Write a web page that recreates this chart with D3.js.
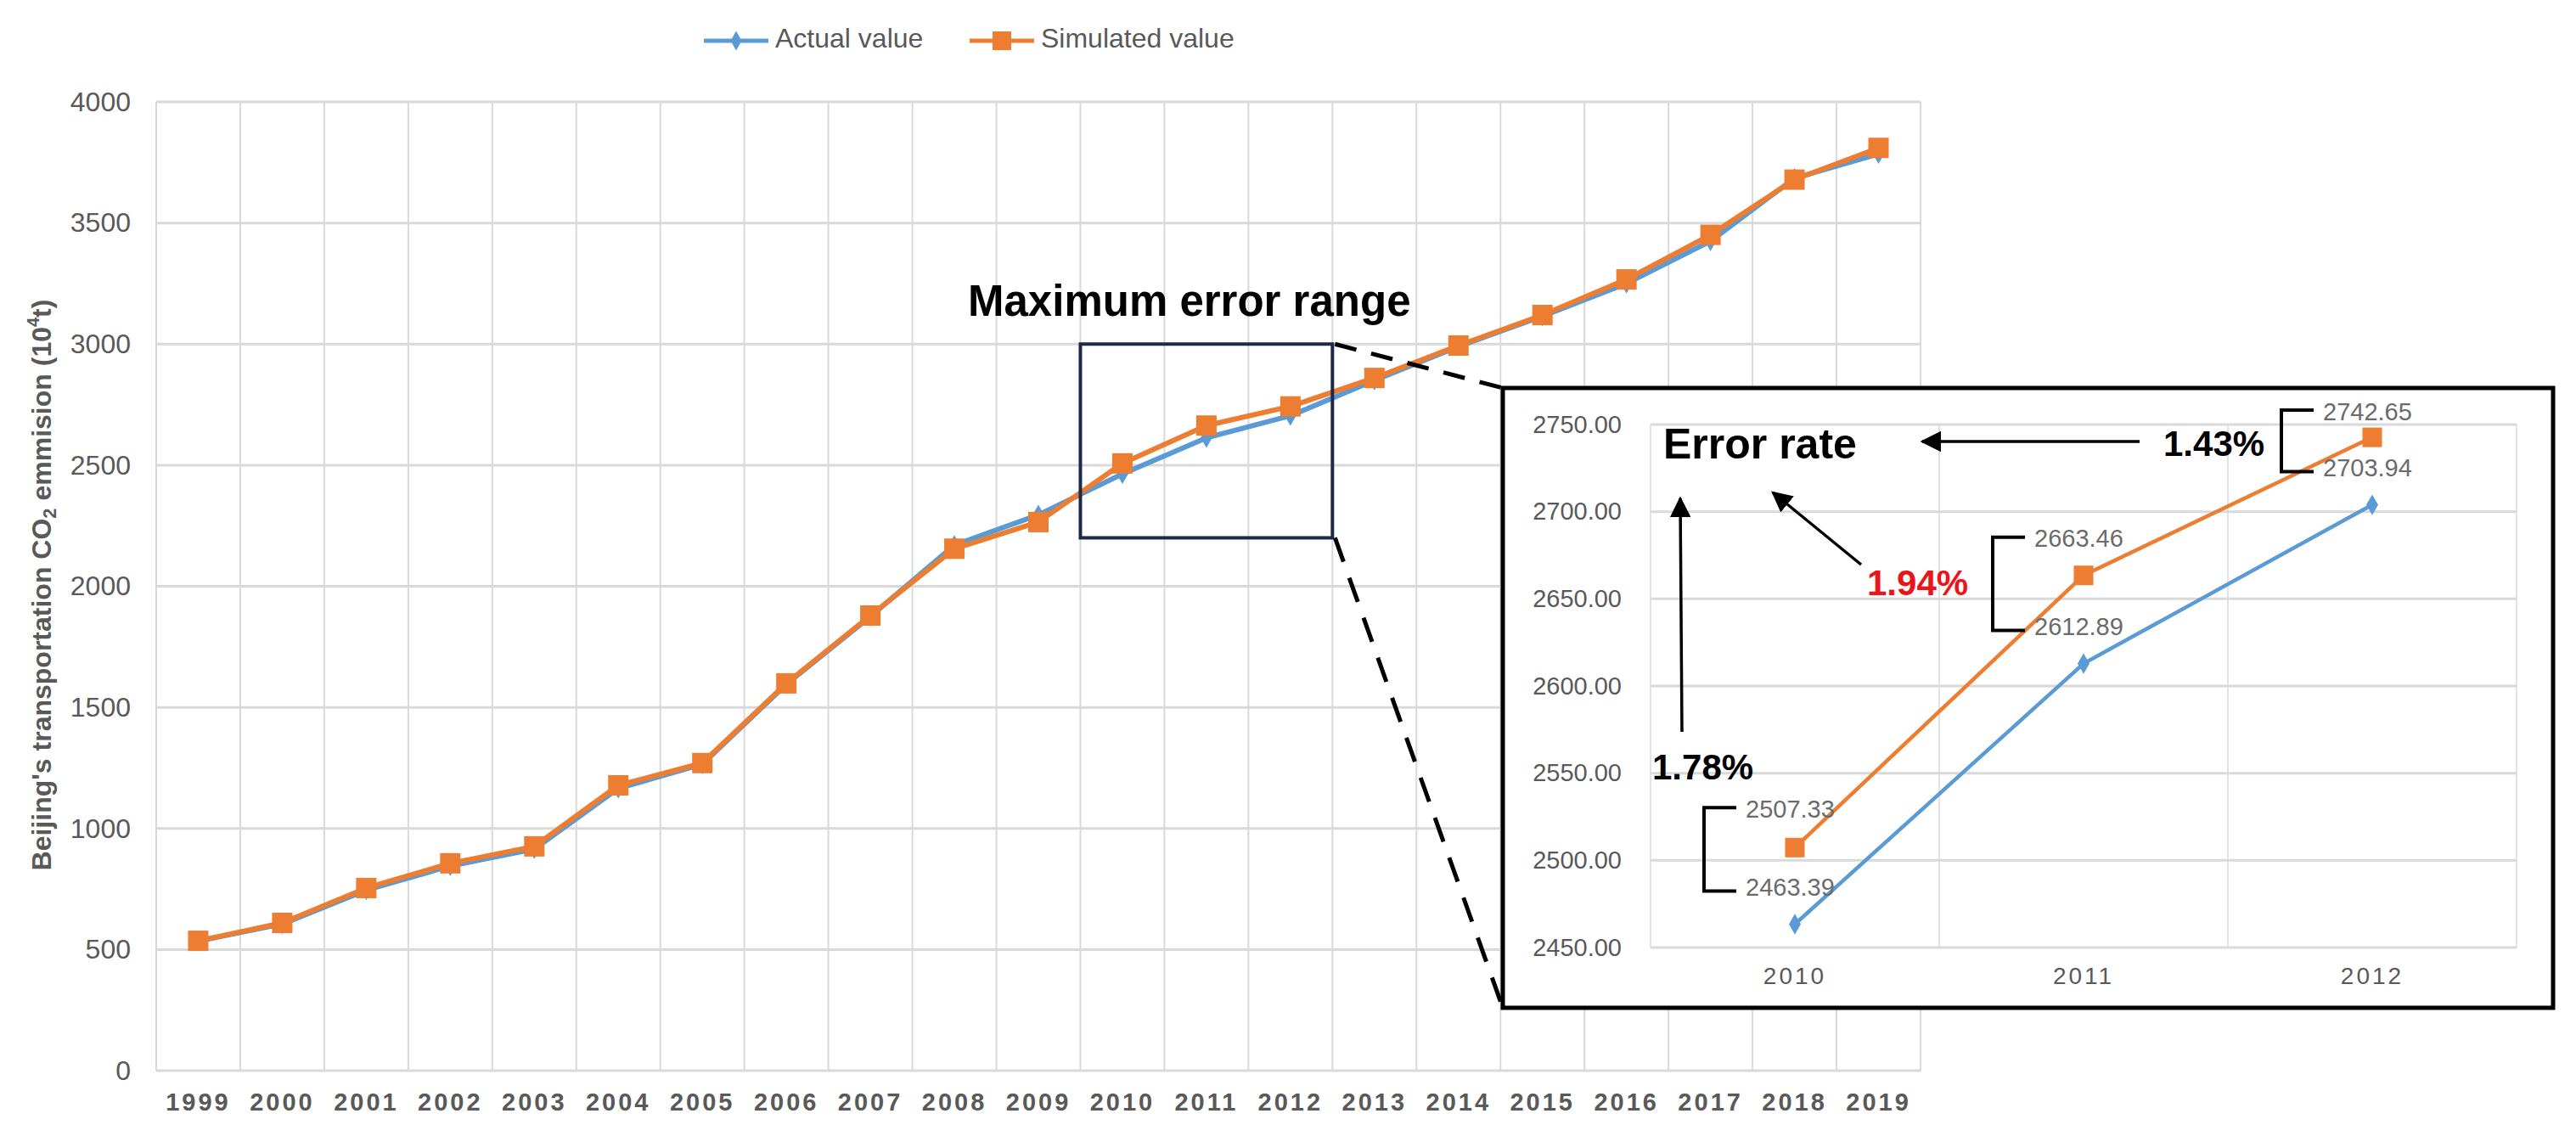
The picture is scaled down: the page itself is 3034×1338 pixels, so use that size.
<!DOCTYPE html>
<html>
<head>
<meta charset="utf-8">
<script src="https://cdn.jsdelivr.net/npm/d3@7"></script>
<style>
  html, body { margin: 0; padding: 0; background: #fff; }
  svg { display: block; font-family: "Liberation Sans", Arial, sans-serif; }
</style>
</head>
<body>
<svg id="chart" width="3034" height="1338"></svg>
<script>
// ---------------- DATA ----------------
const years = ["1999","2000","2001","2002","2003","2004","2005","2006","2007","2008","2009",
               "2010","2011","2012","2013","2014","2015","2016","2017","2018","2019"];
const actualValues = [535, 605, 745, 845, 915, 1165, 1265, 1595, 1875, 2170, 2295,
                      2463.39, 2612.89, 2703.94, 2850, 2990, 3115, 3250, 3425, 3685, 3785];
const simulatedValues = [536, 610, 754, 856, 926, 1178, 1270, 1599, 1879, 2155, 2265,
                         2507.33, 2663.46, 2742.65, 2860, 2994, 3120, 3267, 3451, 3679, 3810];
const yTicks = [0, 500, 1000, 1500, 2000, 2500, 3000, 3500, 4000];
const seriesNames = ["Actual value", "Simulated value"];

const zoomYears = ["2010", "2011", "2012"];
const zoomRange = [2200, 3000];          // highlighted value range on main chart
const insetTicks = [2450, 2500, 2550, 2600, 2650, 2700, 2750];

// ---------------- STYLE ----------------
const BLUE = "#5B9BD5", ORANGE = "#ED7D31", GRID = "#d9d9d9", TXT = "#595959";

const svg = d3.select("#chart");

// ---------------- MAIN CHART ----------------
const x = d3.scaleBand().domain(years).range([184, 2262]).padding(0);
const y = d3.scaleLinear().domain([0, 4000]).range([1261, 120]);
const cx = d => x(d) + x.bandwidth() / 2;

const main = svg.append("g");

// gridlines
const vBounds = years.map(d => x(d)).concat([x.range()[1]]);
main.append("g").selectAll("line").data(vBounds).join("line")
  .attr("x1", d => d).attr("x2", d => d).attr("y1", y(4000)).attr("y2", y(0))
  .attr("stroke", GRID).attr("stroke-width", 2);
main.append("g").selectAll("line").data(yTicks).join("line")
  .attr("x1", x.range()[0]).attr("x2", x.range()[1])
  .attr("y1", d => y(d)).attr("y2", d => y(d))
  .attr("stroke", GRID).attr("stroke-width", 3);

// y axis
const yAxis = main.append("g").attr("transform", `translate(${x.range()[0]},0)`)
  .call(d3.axisLeft(y).tickValues(yTicks).tickSize(0).tickPadding(30).tickFormat(d3.format("d")));
yAxis.select(".domain").remove();
yAxis.selectAll("text").attr("font-size", 32).attr("fill", TXT)
  .attr("font-family", "'Liberation Sans', Arial, sans-serif");

// x axis
const xAxis = main.append("g").attr("transform", `translate(0,${y(0)})`)
  .call(d3.axisBottom(x).tickSize(0).tickPadding(26));
xAxis.select(".domain").remove();
xAxis.selectAll("text").attr("font-size", 29).attr("font-weight", "bold").attr("fill", TXT)
  .attr("letter-spacing", 3)
  .attr("font-family", "'Liberation Sans', Arial, sans-serif");

// y axis title
const yt = main.append("text")
  .attr("transform", "translate(52,689) rotate(-90)")
  .attr("text-anchor", "middle").attr("dominant-baseline", "middle")
  .attr("font-size", 32).attr("font-weight", "bold").attr("fill", TXT);
yt.append("tspan").text("Beijing's transportation CO");
yt.append("tspan").text("2").attr("font-size", 22).attr("dy", 8);
yt.append("tspan").text(" emmision (10").attr("dy", -8);
yt.append("tspan").text("4").attr("font-size", 20).attr("dy", -11);
yt.append("tspan").text("t)").attr("dy", 11);

// series
const lineMain = (vals) => d3.line().x((d, i) => cx(years[i])).y(d => y(d))(vals);
main.append("path").attr("d", lineMain(actualValues))
  .attr("fill", "none").attr("stroke", BLUE).attr("stroke-width", 6).attr("stroke-linejoin", "round");
main.append("g").selectAll("path").data(actualValues).join("path")
  .attr("d", d3.symbol(d3.symbolDiamond, 160)())
  .attr("transform", (d, i) => `translate(${cx(years[i])},${y(d)})`)
  .attr("fill", BLUE);
main.append("path").attr("d", lineMain(simulatedValues))
  .attr("fill", "none").attr("stroke", ORANGE).attr("stroke-width", 6).attr("stroke-linejoin", "round");
main.append("g").selectAll("rect").data(simulatedValues).join("rect")
  .attr("x", (d, i) => cx(years[i]) - 12).attr("y", d => y(d) - 12)
  .attr("width", 24).attr("height", 24).attr("fill", ORANGE);

// legend
const leg = svg.append("g");
const legItems = [
  {name: seriesNames[0], color: BLUE, x0: 829, shape: "diamond"},
  {name: seriesNames[1], color: ORANGE, x0: 1142, shape: "square"}
];
legItems.forEach(it => {
  leg.append("line").attr("x1", it.x0).attr("x2", it.x0 + 76).attr("y1", 48).attr("y2", 48)
    .attr("stroke", it.color).attr("stroke-width", 5);
  if (it.shape === "diamond") {
    leg.append("path").attr("d", d3.symbol(d3.symbolDiamond, 150)())
      .attr("transform", `translate(${it.x0 + 38},48)`).attr("fill", it.color);
  } else {
    leg.append("rect").attr("x", it.x0 + 27).attr("y", 37).attr("width", 22).attr("height", 22)
      .attr("fill", it.color);
  }
  leg.append("text").attr("x", it.x0 + 84).attr("y", 48).attr("dominant-baseline", "middle")
    .attr("font-size", 32).attr("fill", TXT).text(it.name);
});

// "Maximum error range"
svg.append("text").attr("x", 1140).attr("y", 372).attr("font-size", 51)
  .attr("font-weight", "bold").attr("fill", "#000").text("Maximum error range");

// highlight rectangle
const rx0 = x(zoomYears[0]), rx1 = x(zoomYears[zoomYears.length - 1]) + x.bandwidth();
const ry0 = y(zoomRange[1]), ry1 = y(zoomRange[0]);
svg.append("rect").attr("x", rx0).attr("y", ry0).attr("width", rx1 - rx0).attr("height", ry1 - ry0)
  .attr("fill", "none").attr("stroke", "#1c2a4a").attr("stroke-width", 4);

// ---------------- INSET ----------------
const box = {x: 1770, y: 457, w: 1237, h: 730};

// dashed connectors
svg.append("line").attr("x1", rx1 + 3).attr("y1", ry0).attr("x2", box.x).attr("y2", box.y)
  .attr("stroke", "#000").attr("stroke-width", 5).attr("stroke-dasharray", "26,18");
svg.append("line").attr("x1", rx1 + 3).attr("y1", ry1).attr("x2", box.x).attr("y2", box.y + box.h)
  .attr("stroke", "#000").attr("stroke-width", 5).attr("stroke-dasharray", "30,20");

svg.append("rect").attr("x", box.x).attr("y", box.y).attr("width", box.w).attr("height", box.h)
  .attr("fill", "#fff").attr("stroke", "#000").attr("stroke-width", 5);

const inset = svg.append("g");
const xi = d3.scaleBand().domain(zoomYears).range([1944, 2964]).padding(0);
const yi = d3.scaleLinear().domain([2450, 2750]).range([1116, 500]);
const cxi = d => xi(d) + xi.bandwidth() / 2;

const viBounds = zoomYears.map(d => xi(d)).concat([xi.range()[1]]);
inset.append("g").selectAll("line").data(viBounds).join("line")
  .attr("x1", d => d).attr("x2", d => d).attr("y1", yi(2750)).attr("y2", yi(2450))
  .attr("stroke", "#e3e3e3").attr("stroke-width", 2);
inset.append("g").selectAll("line").data(insetTicks).join("line")
  .attr("x1", xi.range()[0]).attr("x2", xi.range()[1])
  .attr("y1", d => yi(d)).attr("y2", d => yi(d))
  .attr("stroke", GRID).attr("stroke-width", 3);

const yiAxis = inset.append("g").attr("transform", `translate(${xi.range()[0]},0)`)
  .call(d3.axisLeft(yi).tickValues(insetTicks).tickSize(0).tickPadding(34).tickFormat(d3.format(".2f")));
yiAxis.select(".domain").remove();
yiAxis.selectAll("text").attr("font-size", 29).attr("fill", TXT)
  .attr("font-family", "'Liberation Sans', Arial, sans-serif");

const xiAxis = inset.append("g").attr("transform", `translate(0,${yi(2450)})`)
  .call(d3.axisBottom(xi).tickSize(0).tickPadding(23));
xiAxis.select(".domain").remove();
xiAxis.selectAll("text").attr("font-size", 28).attr("fill", TXT).attr("letter-spacing", 3)
  .attr("font-family", "'Liberation Sans', Arial, sans-serif");

const idx = zoomYears.map(yr => years.indexOf(yr));
const insetActual = idx.map(i => actualValues[i]);
const insetSim = idx.map(i => simulatedValues[i]);

const lineInset = (vals) => d3.line().x((d, i) => cxi(zoomYears[i])).y(d => yi(d))(vals);
inset.append("path").attr("d", lineInset(insetActual))
  .attr("fill", "none").attr("stroke", BLUE).attr("stroke-width", 4.5);
inset.append("g").selectAll("path").data(insetActual).join("path")
  .attr("d", d3.symbol(d3.symbolDiamond, 170)())
  .attr("transform", (d, i) => `translate(${cxi(zoomYears[i])},${yi(d)})`).attr("fill", BLUE);
inset.append("path").attr("d", lineInset(insetSim))
  .attr("fill", "none").attr("stroke", ORANGE).attr("stroke-width", 4.5);
inset.append("g").selectAll("rect").data(insetSim).join("rect")
  .attr("x", (d, i) => cxi(zoomYears[i]) - 11.5).attr("y", d => yi(d) - 11.5)
  .attr("width", 23).attr("height", 23).attr("fill", ORANGE);

// value labels + brackets
const simOffset = [43, 41, 28];
const actOffset = 41;
zoomYears.forEach((yr, i) => {
  const c = cxi(yr);
  const ys = yi(insetSim[i]) - simOffset[i];
  const ya = yi(insetActual[i]) - actOffset;
  inset.append("text").attr("x", c - 58).attr("y", ys).attr("dominant-baseline", "middle")
    .attr("font-size", 29).attr("fill", "#6b6b6b").text(d3.format(".2f")(insetSim[i]));
  inset.append("text").attr("x", c - 58).attr("y", ya).attr("dominant-baseline", "middle")
    .attr("font-size", 29).attr("fill", "#6b6b6b").text(d3.format(".2f")(insetActual[i]));
  const bx = c - 107, be = c - 69;
  inset.append("path")
    .attr("d", `M${be},${ys - 4} H${bx} V${ya + 2} H${be}`)
    .attr("fill", "none").attr("stroke", "#000").attr("stroke-width", 4);
});

// error rates computed from data
const errs = insetSim.map((s, i) => (s - insetActual[i]) / insetActual[i] * 100);
const maxErr = d3.max(errs);
const pct = d3.format(".2f");

// arrow marker
svg.append("defs").append("marker").attr("id", "arrow")
  .attr("viewBox", "0 0 10 10").attr("refX", 9).attr("refY", 5)
  .attr("markerWidth", 7).attr("markerHeight", 7).attr("markerUnits", "strokeWidth")
  .attr("orient", "auto")
  .append("path").attr("d", "M0,0 L10,5 L0,10 Z").attr("fill", "#000");

inset.append("text").attr("x", 1959).attr("y", 540).attr("font-size", 50)
  .attr("font-weight", "bold").attr("fill", "#000").text("Error rate");

const errLabels = [
  {x: 1946, y: 918, arrow: [1981, 862, 1979, 587]},
  {x: 2199, y: 701, arrow: [2192, 665, 2088, 580]},
  {x: 2548, y: 537, arrow: [2520, 520, 2264, 520]}
];
errLabels.forEach((e, i) => {
  inset.append("text").attr("x", e.x).attr("y", e.y).attr("font-size", 42)
    .attr("font-weight", "bold").attr("fill", errs[i] === maxErr ? "#e8161b" : "#000")
    .text(pct(errs[i]) + "%");
  inset.append("line").attr("x1", e.arrow[0]).attr("y1", e.arrow[1])
    .attr("x2", e.arrow[2]).attr("y2", e.arrow[3])
    .attr("stroke", "#000").attr("stroke-width", 3.5).attr("marker-end", "url(#arrow)");
});
</script>
</body>
</html>
